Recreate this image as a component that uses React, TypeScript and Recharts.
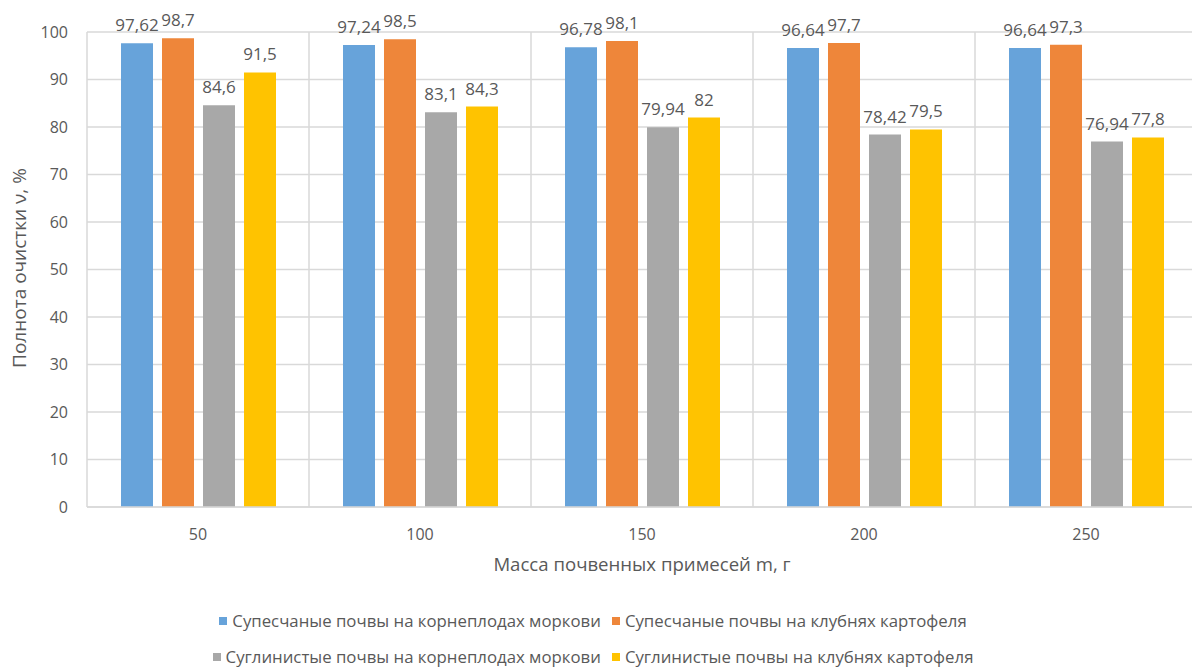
import { BarChart, Bar, XAxis, YAxis, CartesianGrid, Legend, LabelList } from 'recharts'

const masses = ['50', '100', '150', '200', '250']
const sandyCarrot = [97.62, 97.24, 96.78, 96.64, 96.64]
const sandyPotato = [98.7, 98.5, 98.1, 97.7, 97.3]
const loamyCarrot = [84.6, 83.1, 79.94, 78.42, 76.94]
const loamyPotato = [91.5, 84.3, 82, 79.5, 77.8]
const yTicks = [0, 10, 20, 30, 40, 50, 60, 70, 80, 90, 100]

const series = [
  { key: 'sandyCarrot', name: 'Супесчаные почвы на корнеплодах моркови', color: '#67A3DA' },
  { key: 'sandyPotato', name: 'Супесчаные почвы на клубнях картофеля', color: '#EE863A' },
  { key: 'loamyCarrot', name: 'Суглинистые почвы на корнеплодах моркови', color: '#A8A8A8' },
  { key: 'loamyPotato', name: 'Суглинистые почвы на клубнях картофеля', color: '#FFC300' },
]

const data = masses.map((mass, i) => ({
  mass,
  sandyCarrot: sandyCarrot[i],
  sandyPotato: sandyPotato[i],
  loamyCarrot: loamyCarrot[i],
  loamyPotato: loamyPotato[i],
}))

const TEXT = '#595959'
const GRID = '#D9D9D9'
const FONT = '"Open Sans", sans-serif'

const fmt = (v: any) => String(v).replace('.', ',')

function LegendRows() {
  const rows = [series.slice(0, 2), series.slice(2, 4)]
  return (
    <div style={{ position: 'relative', height: 63, width: 1192, fontFamily: FONT, fontSize: 16.8, color: TEXT }}>
      {rows.map((row, r) => (
        <div
          key={r}
          style={{
            position: 'absolute',
            top: r === 0 ? 5 : 41,
            left: 0,
            width: 1186,
            display: 'flex',
            justifyContent: 'center',
            gap: 11,
            lineHeight: '22px',
            whiteSpace: 'nowrap',
          }}
        >
          {row.map((s) => (
            <span key={s.key} style={{ display: 'flex', alignItems: 'center' }}>
              <span style={{ width: 8, height: 8, background: s.color, marginRight: 5, display: 'inline-block' }} />
              {s.name}
            </span>
          ))}
        </div>
      ))}
    </div>
  )
}

export default function App() {
  return (
    <div style={{ position: 'fixed', left: 0, top: 0, width: 1192, height: 668, overflow: 'hidden', background: '#fff' }}>
      <BarChart
        width={1200}
        height={668}
        data={data}
        margin={{ top: 32, right: 3, left: 0, bottom: 0 }}
        barCategoryGap={34}
        barGap={9}
      >
        <CartesianGrid
          stroke={GRID}
          strokeWidth={1.5}
          verticalCoordinatesGenerator={({ offset }: any) =>
            masses.map((_, i) => offset.left + (i * offset.width) / masses.length).concat(offset.left + offset.width)
          }
        />
        <XAxis
          dataKey="mass"
          height={98}
          tickLine={false}
          axisLine={{ stroke: GRID, strokeWidth: 1.5 }}
          tickMargin={16}
          tick={{ fill: TEXT, fontSize: 16, fontFamily: FONT }}
          label={{
            content: ({ viewBox }: any) => (
              <text
                x={viewBox.x + viewBox.width / 2}
                y={viewBox.y + 64}
                textAnchor="middle"
                fill={TEXT}
                fontSize={18.6}
                fontFamily={FONT}
              >
                Масса почвенных примесей m, г
              </text>
            ),
          }}
        />
        <YAxis
          width={87}
          domain={[0, 100]}
          ticks={yTicks}
          interval={0}
          tickLine={false}
          axisLine={false}
          tickMargin={13}
          tick={{ fill: TEXT, fontSize: 16, fontFamily: FONT }}
          label={{
            content: () => (
              <text
                x={26}
                y={268}
                transform="rotate(-90 26 268)"
                textAnchor="middle"
                fill={TEXT}
                fontSize={19}
                fontFamily={FONT}
              >
                Полнота очистки ν, %
              </text>
            ),
          }}
        />
        <Legend verticalAlign="bottom" content={() => <LegendRows />} />
        {series.map((s) => (
          <Bar key={s.key} dataKey={s.key} name={s.name} fill={s.color} barSize={32} isAnimationActive={false}>
            <LabelList
              dataKey={s.key}
              position="top"
              offset={12}
              formatter={fmt}
              fill={TEXT}
              fontSize={17}
              fontFamily={FONT}
            />
          </Bar>
        ))}
      </BarChart>
    </div>
  )
}
